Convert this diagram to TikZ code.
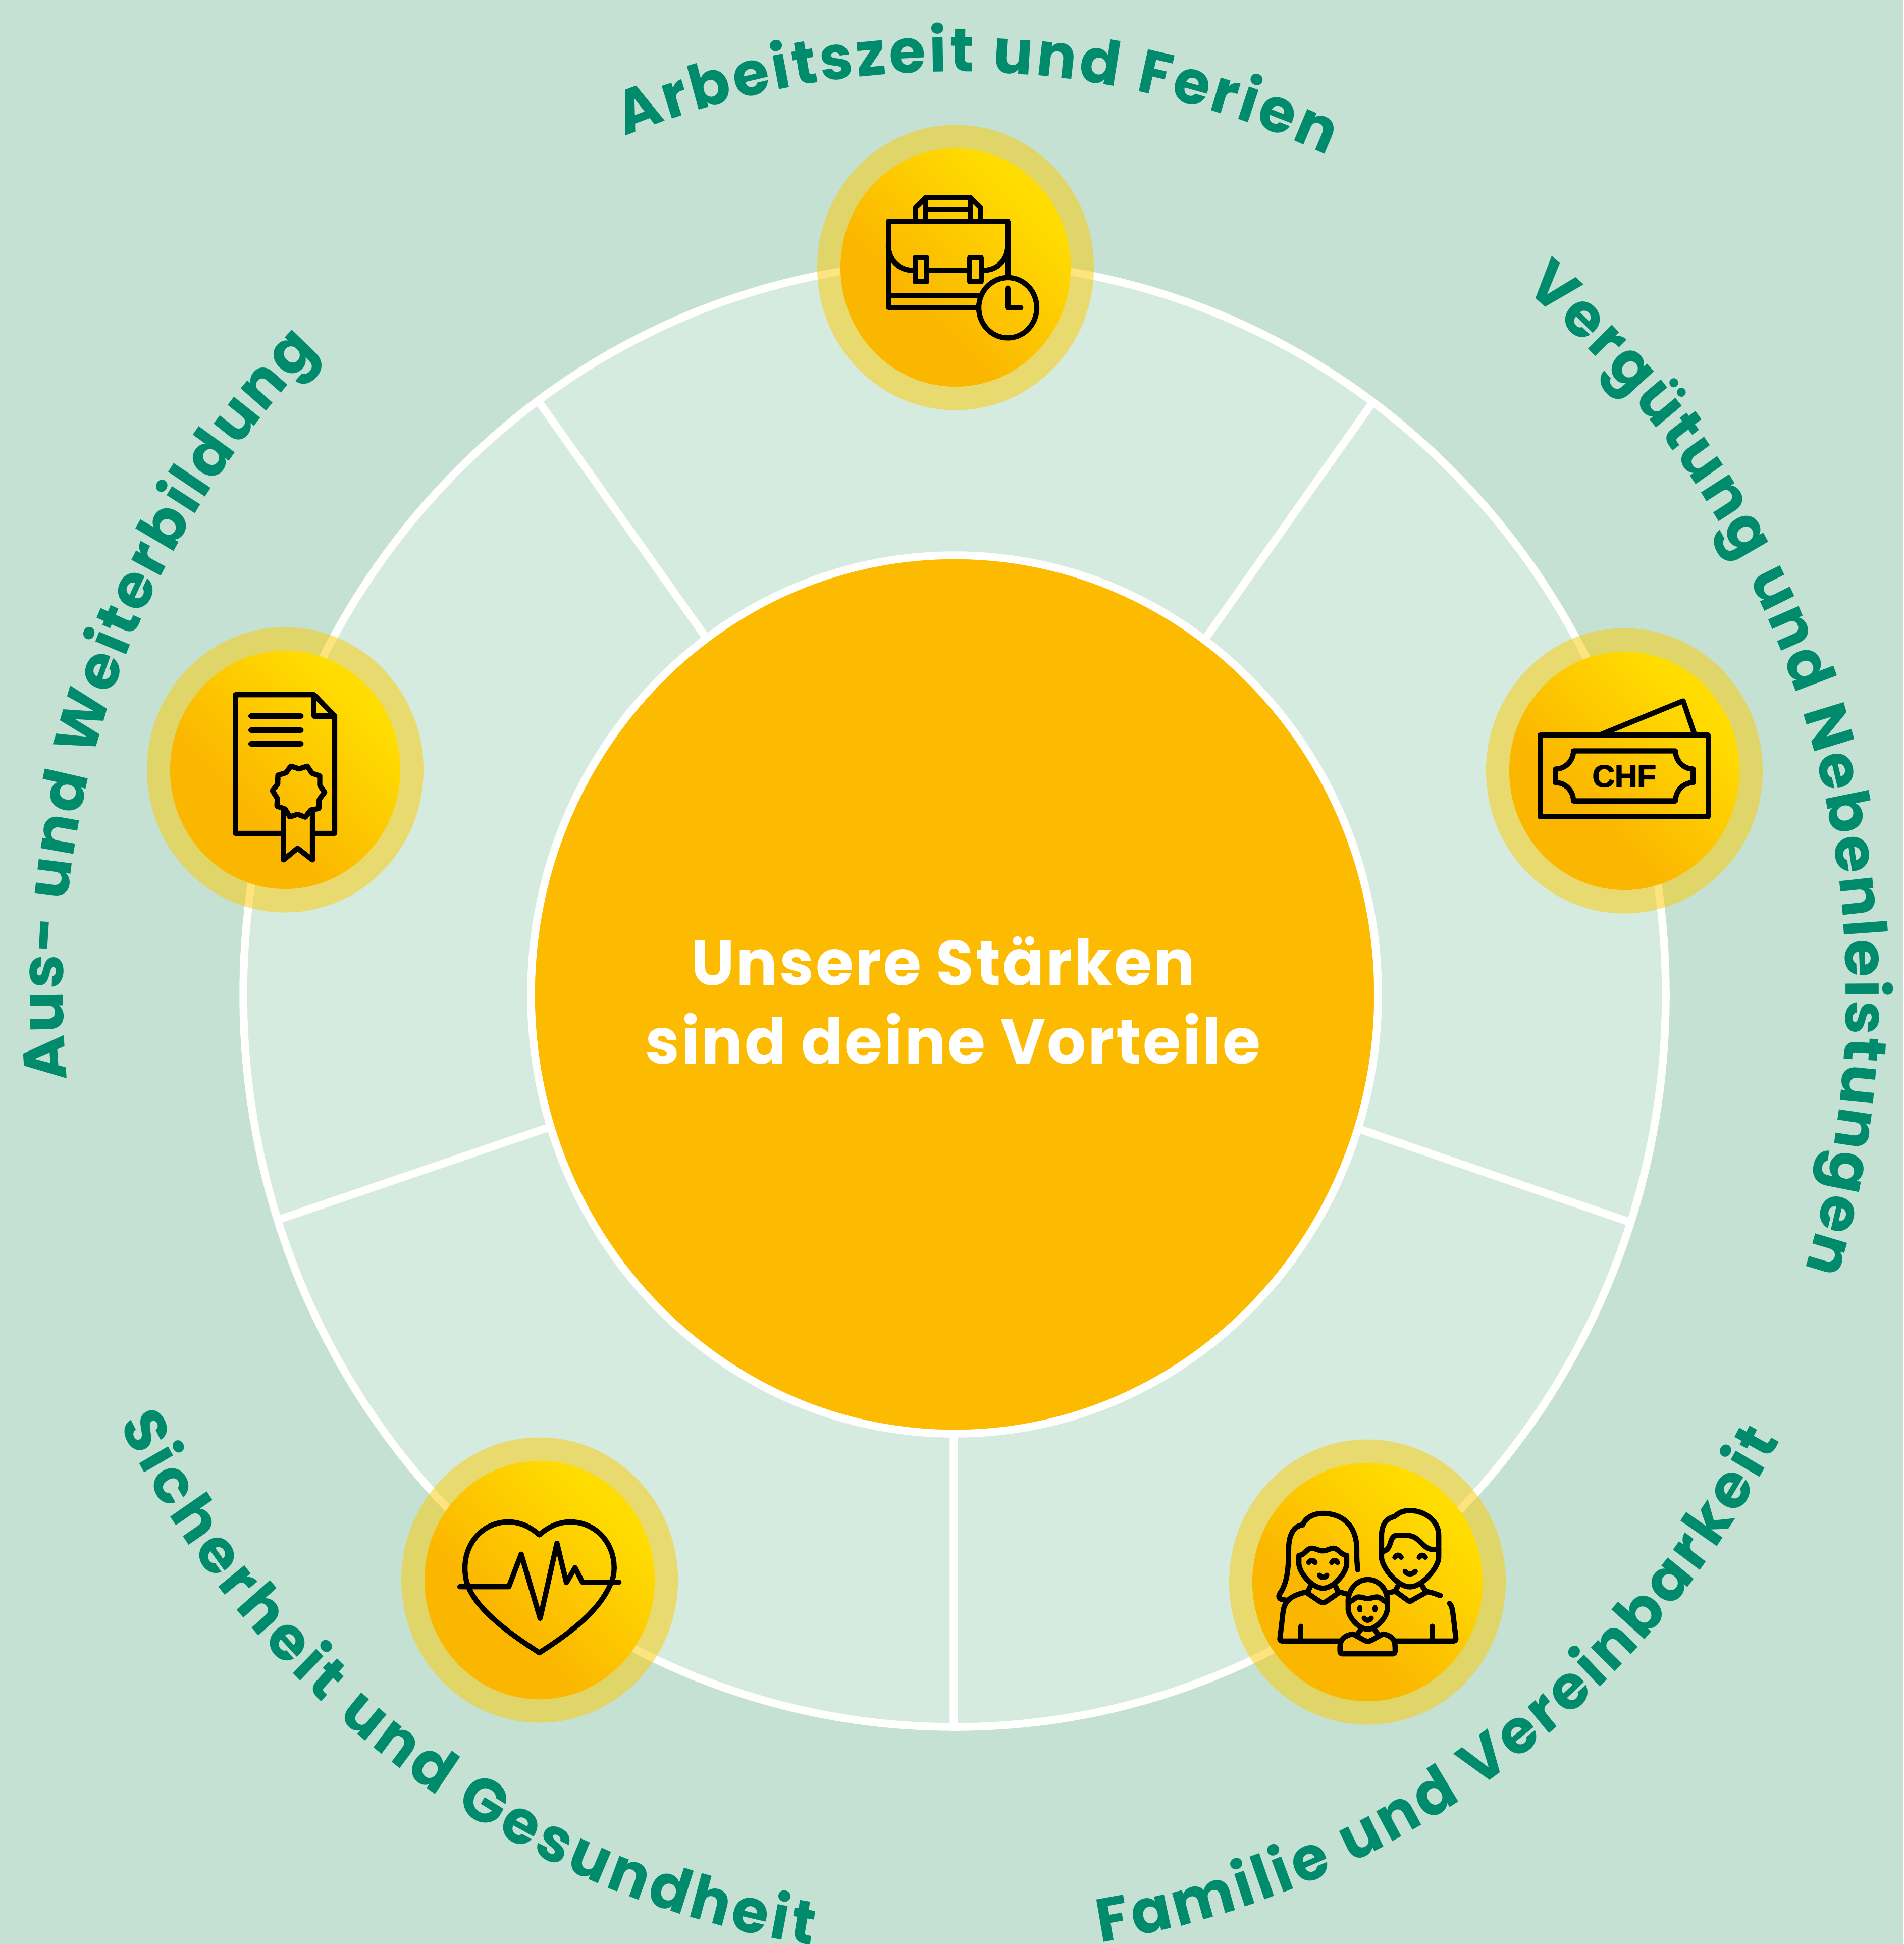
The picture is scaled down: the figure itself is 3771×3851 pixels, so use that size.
\documentclass[tikz,border=0pt]{standalone}
\usepackage{fontspec}
\usetikzlibrary{decorations.text,shapes.geometric}
\newfontfamily\labfont{Poppins}
\newfontfamily\hubfont{Poppins}[LetterSpace=3]
\newfontfamily\chffont{Liberation Sans}[BoldFeatures={FakeBold=2.5}]
\definecolor{bgcol}{HTML}{C4E1D4}
\definecolor{sectorcol}{HTML}{D6EBE0}
\definecolor{hubcol}{HTML}{FCBA00}
\definecolor{halocol}{HTML}{FDCA00}
\definecolor{labcol}{HTML}{008B6C}
\definecolor{gradY}{HTML}{FFDD00}
\definecolor{gradO}{HTML}{FBB600}
\pgfdeclareverticalshading{iconshade}{100bp}{color(0bp)=(gradO); color(38bp)=(gradO); color(72bp)=(gradY); color(100bp)=(gradY)}
\tikzset{
  whiteline/.style={draw=white,line width=4.4pt},
  halo/.style={ellipse,minimum width=548*0.01cm,minimum height=565*0.01cm,inner sep=0pt,fill=halocol,fill opacity=.5,draw=none},
  disc/.style={ellipse,minimum width=456*0.01cm,minimum height=472*0.01cm,inner sep=0pt,shading=iconshade,shading angle=-45,draw=none},
  iconline/.style={draw=black,line width=2.94pt,line cap=round,line join=round},
  iconzoom/.style={scale=0.3827},
}
\newcommand{\arclabel}[4]{%
  \path[shift={(1891,1912.6)},decorate,decoration={text along path,text align={fit to path},
    text={|\labfont\bfseries\fontsize{33.5}{33.5}\selectfont\color{labcol}|#4}}]
    (#1:#3) arc[start angle=#1,end angle=#2,radius=#3];}
\begin{document}
\begin{tikzpicture}[x=0.01cm,y=-0.01cm]
\useasboundingbox (0,0) rectangle (3771,3851);
\fill[bgcol] (0,0) rectangle (3771,3851);
% ring
\node[ellipse,minimum width=2818*0.01cm,minimum height=2902*0.01cm,inner sep=0pt,fill=sectorcol,whiteline] (ring) at (1891,1970) {};
% spokes
\coordinate (s1a) at (1400,1265); \coordinate (s1b) at (1064,791);
\coordinate (s2a) at (2388,1265); \coordinate (s2b) at (2720,796);
\coordinate (s3a) at (2697,2238); \coordinate (s3b) at (3226,2420);
\coordinate (s4a) at (1889,2838); \coordinate (s4b) at (1889,3420);
\coordinate (s5a) at (1088,2233); \coordinate (s5b) at (555,2415);
\draw[whiteline] (s1a)--(s1b) (s2a)--(s2b) (s3a)--(s3b) (s4a)--(s4b) (s5a)--(s5b);
% hub
\node[ellipse,minimum width=1678*0.01cm,minimum height=1740*0.01cm,inner sep=0pt,fill=hubcol,whiteline] (hub) at (1891,1970) {};
% halos and discs
\node[halo] (h1) at (1893,530) {}; \node[disc] (d1) at (1893,530) {};
\node[halo] (h2) at (3218,1527) {}; \node[disc] (d2) at (3218,1527) {};
\node[halo] (h3) at (2709,3134) {}; \node[disc] (d3) at (2709,3134) {};
\node[halo] (h4) at (1069,3130) {}; \node[disc] (d4) at (1069,3130) {};
\node[halo] (h5) at (565,1525) {}; \node[disc] (d5) at (565,1525) {};
% briefcase
\begin{scope}[shift={(1600,230)},iconzoom,iconline]
\draw (875,991)--(418,991)--(418,545)--(1036,545)--(1036,825);
\draw (418,928)--(885,928);
\draw (418,670) .. controls (418,740) and (470,798) .. (543,798);
\draw (630,798)--(825,798);
\draw (912,798) .. controls (985,798) and (1036,740) .. (1036,670);
\draw (556,733) rectangle (617,857);
\draw (838,733) rectangle (898,857);
\draw (558,545)--(558,475)--(612,422)--(842,422)--(895,475)--(895,545);
\draw (612,422)--(612,545) (842,422)--(842,545) (612,483)--(842,483);
\draw (1036,992) ellipse [x radius=150,y radius=156];
\draw (1036,890)--(1036,992)--(1103,992);
\end{scope}
% banknote
\begin{scope}[shift={(2920,1220)},iconzoom,iconline]
\draw (343,617) rectangle (1213,1040);
\draw (650,617)--(1083,440)--(1143,617);
\draw (515,699)--(1043,699) .. controls (1043,750) and (1085,793) .. (1135,793) -- (1135,863) .. controls (1085,863) and (1043,905) .. (1043,958) -- (515,958) .. controls (515,905) and (473,863) .. (422,863) -- (422,793) .. controls (473,793) and (515,750) .. (515,699) -- cycle;
\node[inner sep=0pt,text=black] (chf) at (778,830) {\chffont\bfseries\fontsize{17.5}{18}\selectfont CHF};
\end{scope}
% family
\begin{scope}[shift={(2420,2840)},iconzoom,iconline]
\draw (705,705) .. controls (700,660) and (700,640) .. (700,600) .. controls (700,480) and (630,413) .. (525,413) .. controls (475,413) and (435,435) .. (420,472) .. controls (375,478) and (347,520) .. (347,600) .. controls (347,720) and (335,780) .. (300,830) .. controls (290,850) and (300,858) .. (335,862);
\draw (400,630) -- (400,670) .. controls (400,720) and (470,800) .. (525,800) .. controls (580,800) and (648,720) .. (648,670) -- (648,630) .. controls (620,630) and (605,595) .. (580,593) .. controls (560,593) and (545,607) .. (525,607) .. controls (505,607) and (485,593) .. (465,593) .. controls (440,595) and (430,630) .. (400,630) -- cycle;
\draw (451,667) .. controls (460,652) and (475,652) .. (484,667);
\draw (570,667) .. controls (579,652) and (592,652) .. (600,667);
\draw (507,733) .. controls (515,748) and (537,748) .. (545,733);
\draw (460,790)--(448,815);
\draw (590,790)--(602,815);
\draw (437,820) -- (510,870) .. controls (520,875) and (530,875) .. (540,870) -- (612,820) -- (648,830);
\draw (437,820) .. controls (350,840) and (325,870) .. (318,925) -- (302,1060) .. controls (301,1070) and (305,1073) .. (312,1073) -- (612,1073);
\draw (900,1073) -- (1203,1073) .. controls (1210,1073) and (1214,1070) .. (1213,1060) -- (1197,925) .. controls (1193,900) and (1190,890) .. (1180,878);
\draw (410,997)--(410,1073) (1091,997)--(1091,1073);
\draw (828,610) -- (828,530) .. controls (828,470) and (855,435) .. (895,430) .. controls (915,410) and (940,398) .. (975,398) .. controls (1055,398) and (1124,455) .. (1124,525) -- (1124,640) .. controls (1124,690) and (1040,793) .. (975,793) .. controls (910,793) and (828,690) .. (828,640) -- (828,610);
\draw (828,610) .. controls (885,610) and (865,527) .. (905,527) -- (960,527) .. controls (1030,527) and (1035,600) .. (1100,600) -- (1124,600);
\draw (897,640) .. controls (906,625) and (921,625) .. (930,640);
\draw (1023,640) .. controls (1032,625) and (1046,625) .. (1055,640);
\draw (950,713) .. controls (960,730) and (990,730) .. (1003,713);
\draw (912,790)--(898,815);
\draw (1040,790)--(1056,815);
\draw (862,825) -- (898,815) -- (960,860) .. controls (970,870) and (980,870) .. (990,860) -- (1065,818) .. controls (1090,822) and (1110,830) .. (1132,838);
\draw (655,860) .. controls (660,800) and (705,755) .. (757,755) .. controls (810,755) and (855,800) .. (858,860) -- (858,905) .. controls (858,950) and (800,1012) .. (757,1012) .. controls (710,1012) and (655,950) .. (655,905) -- cycle;
\draw (655,870) .. controls (680,870) and (690,845) .. (710,845) .. controls (725,845) and (740,853) .. (757,853) .. controls (775,853) and (790,845) .. (805,845) .. controls (825,845) and (835,870) .. (858,870);
\draw (716,900)--(716,912) (795,900)--(795,912);
\draw (738,955) .. controls (745,970) and (768,970) .. (775,955);
\draw (722,1012)--(705,1035) (790,1012)--(808,1035);
\draw (680,1037) -- (740,1070) .. controls (750,1076) and (764,1076) .. (775,1070) -- (835,1037);
\draw (680,1037) .. controls (635,1045) and (613,1065) .. (613,1105) -- (613,1125) .. controls (613,1135) and (618,1140) .. (625,1140) -- (886,1140) .. controls (893,1140) and (898,1135) .. (898,1125) -- (898,1105) .. controls (898,1065) and (880,1045) .. (835,1037);
\end{scope}
% heart
\begin{scope}[shift={(770,2830)},iconzoom,iconline]
\draw (780,550) .. controls (730,505) and (675,483) .. (620,483) .. controls (490,483) and (395,590) .. (395,720) .. controls (395,760) and (400,790) .. (415,825) .. controls (470,950) and (640,1070) .. (780,1160) .. controls (920,1070) and (1090,950) .. (1150,800) .. controls (1165,770) and (1167,740) .. (1167,720) .. controls (1167,590) and (1070,483) .. (940,483) .. controls (885,483) and (830,505) .. (780,550) -- cycle;
\draw (368,818)--(622,818)--(686,650)--(784,982)--(871,593)--(920,797)--(965,720)--(1003,795)--(1192,795);
\end{scope}
% certificate
\begin{scope}[shift={(270,1220)},iconzoom,iconline]
\draw (748,1126)--(513,1126)--(513,408)--(920,408)--(1027,518)--(1027,1126)--(925,1126);
\draw (920,408)--(920,519)--(1027,519);
\draw (593,519)--(853,519) (593,592)--(853,592) (593,662)--(853,662);
\draw (762,1010)--(762,1263)--(835,1203)--(912,1263)--(912,1010);
\draw (800,778)--(843,792)--(885,778)--(910,815)--(950,828)--(950,878)--(975,913)--(947,950)--(945,997)--(903,1005)--(875,1042)--(835,1027)--(795,1040)--(770,1000)--(728,985)--(730,945)--(705,905)--(732,870)--(733,825)--(775,812)--cycle;
\end{scope}
% texts, stretched as in the reference
\begin{scope}[transform canvas={yscale=1.03}]
\node[align=center,inner sep=0pt,text=white,font=\hubfont\bfseries\fontsize{34.6}{43}\selectfont] (hubtext) at (1888,1924) {Unsere Stärken\rule{11pt}{0pt}\\sind deine Vorteile};
\arclabel{248.4}{294.6}{1775}{Arbeitszeit und Ferien}
\arclabel{-50.3}{17.4}{1766}{Vergütung und Nebenleistungen}
\arclabel{81}{27.7}{1846}{Familie und Vereinbarkeit}
\arclabel{153.5}{98.8}{1850}{Sicherheit und Gesundheit}
\arclabel{174.7}{224.5}{1766}{Aus- und Weiterbildung}
\end{scope}
\end{tikzpicture}
\end{document}
